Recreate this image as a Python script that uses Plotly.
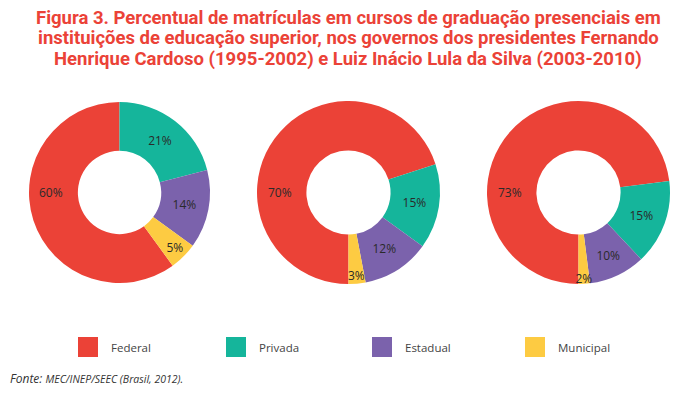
import plotly.graph_objects as go

categories = ["Federal", "Privada", "Estadual", "Municipal"]
colors = ["#EB4237", "#15B59B", "#7B62AC", "#FDCB42"]
fhc_1995 = [60, 21, 14, 5]
fhc_2002 = [70, 15, 12, 3]
lula_2010 = [73, 15, 10, 2]
series = [fhc_1995, fhc_2002, lula_2010]
rotations = [144, 180, 180]

title_lines = [
    "Figura 3. Percentual de matrículas em cursos de graduação presenciais em",
    "instituições de educação superior, nos governos dos presidentes Fernando",
    "Henrique Cardoso (1995-2002) e Luiz Inácio Lula da Silva (2003-2010)",
]
source = "<i>Fonte: <span style='font-size:10.5px'>MEC/INEP/SEEC (Brasil, 2012).</span></i>"

# page body adds an 8px offset; layout is expressed in window pixels
W, H, OFF = 682, 385, 8
def px(X):
    return (X - OFF) / W
def py(Y):
    return 1 - (Y - OFF) / H

pie_px_x = [(29, 210), (257, 440), (487, 670)]
pie_px_y = (101, 284)
hole = 0.46

fig = go.Figure()
for vals, rot, (x0, x1) in zip(series, rotations, pie_px_x):
    fig.add_trace(go.Pie(
        labels=categories, values=vals, hole=hole, sort=False,
        direction="clockwise", rotation=rot,
        marker=dict(colors=colors, line=dict(width=0)),
        texttemplate=[""] + ["%{value}%"] * (len(vals) - 1),
        textposition="inside", insidetextorientation="horizontal",
        textfont=dict(color="#2a2a2a", size=12, family="Open Sans"),
        domain=dict(x=[px(x0), px(x1)], y=[py(pie_px_y[1]), py(pie_px_y[0])]),
        showlegend=False, hoverinfo="label+value",
    ))
    # label for the large slice, placed on the left side of the ring
    cx = (x0 + x1) / 2
    r_out = (pie_px_y[1] - pie_px_y[0]) / 2
    cy = (pie_px_y[0] + pie_px_y[1]) / 2
    fig.add_annotation(text=f"{vals[0]}%", xref="paper", yref="paper",
                       x=px(cx - r_out * (1 + hole) / 2 - 2), y=py(cy),
                       xanchor="center", yanchor="middle", showarrow=False,
                       font=dict(color="#2a2a2a", size=12, family="Open Sans"))

legend_px_x = [78, 226, 372, 525]
for lab, col, lx in zip(categories, colors, legend_px_x):
    fig.add_shape(type="rect", xref="paper", yref="paper",
                  x0=px(lx), x1=px(lx + 20), y0=py(357), y1=py(337),
                  fillcolor=col, line=dict(width=0))
    fig.add_annotation(text=lab, xref="paper", yref="paper", x=px(lx + 31), y=py(347),
                       xanchor="left", yanchor="middle", showarrow=False,
                       font=dict(size=11.5, color="#444", family="Open Sans"))

fig.add_annotation(text=source, xref="paper", yref="paper", x=px(8), y=py(378),
                   xanchor="left", yanchor="middle", showarrow=False,
                   font=dict(size=12, color="#333", family="Open Sans"))

for line, ly in zip(title_lines, [18, 38.5, 59]):
    fig.add_annotation(text=line, xref="paper", yref="paper", x=px(348), y=py(ly),
                       xanchor="center", yanchor="middle", showarrow=False,
                       font=dict(size=18.5, color="#EB4237", family="Roboto", weight="bold"))

fig.update_layout(
    width=W, height=H, margin=dict(l=0, r=0, t=0, b=0),
    paper_bgcolor="white", plot_bgcolor="white",
    uniformtext=dict(minsize=11, mode="show"),
)
fig.write_html("out.html")
